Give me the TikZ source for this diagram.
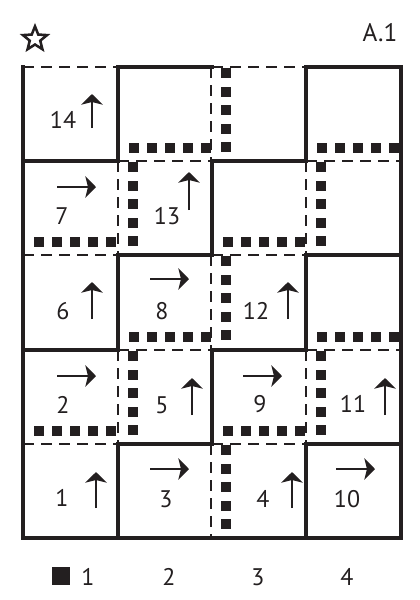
\documentclass[tikz,border=0pt]{standalone}
\usepackage{fontspec}
\setmainfont{PT Sans}
\usetikzlibrary{arrows.meta,shapes.geometric}
\definecolor{ink}{RGB}{35,31,32}
\begin{document}
\begin{tikzpicture}[x=0.75pt,y=-0.75pt,
  solidline/.style={draw=ink,line width=2.4pt,line cap=rect},
  dashline/.style={draw=ink,line width=1.5pt,dash pattern=on 8.25pt off 5.25pt},
  sq/.style={fill=ink},
  num/.style={font=\fontsize{18}{20}\selectfont,text=ink,inner sep=0pt},
  arr/.style={draw=ink,line width=2.2pt,-{Stealth[length=8pt,width=16pt,inset=2pt]}},
  starmark/.style={star,star points=5,star point ratio=2.3,draw=ink,line width=1.9pt,minimum size=19pt,inner sep=0pt,line join=miter},
]
\useasboundingbox (0,0) rectangle (419,600);
% dashed segments
\foreach \a/\b/\y in {23/118/67,212/306/67,118/212/161,306/401/161,23/118/255,212/306/255,118/212/350,306/401/350,23/118/444,212/306/444}
  \draw[dashline] (\a,\y) -- (\b,\y);
\foreach \x/\a/\b in {118/161/255,118/350/444,211/67/161,211/255/350,211/444/538,306/161/255,306/350/444}
  \draw[dashline] (\x,\a) -- (\x,\b);
% solid segments
\foreach \a/\b/\y in {118/212/67,306/401/67,23/118/161,212/306/161,118/212/255,306/401/255,23/118/350,212/306/350,118/212/444,306/401/444,23/401/538}
  \draw[solidline] (\a,\y) -- (\b,\y);
\foreach \x/\a/\b in {23/67/538,401/67/538,118/67/161,118/255/350,118/444/538,212/161/255,212/350/444,306/67/161,306/255/350,306/444/538}
  \draw[solidline] (\x,\a) -- (\x,\b);
% horizontal rows of squares
\foreach \cx/\ly in {118/161,306/161,23/255,212/255,118/350,306/350,23/444,212/444}
  \foreach \k in {0,...,4}
    \fill[sq] ({\cx+16+18*\k-5},{\ly-13.5-5}) rectangle ++(10,10);
% vertical columns of squares
\foreach \lx/\ty in {211/67,118/161,306/161,211/255,118/350,306/350,211/444}
  \foreach \k in {0,...,4}
    \fill[sq] ({\lx+15-5},{\ty+6+18.5*\k-5}) rectangle ++(10,10);
% cell labels
\node[num] (n14) at (63,120) {14};
\node[num] (n7) at (62,216) {7};
\node[num] (n13) at (167,216) {13};
\node[num] (n6) at (63,311) {6};
\node[num] (n8) at (162,311) {8};
\node[num] (n12) at (256,311) {12};
\node[num] (n2) at (63,405) {2};
\node[num] (n5) at (162,405) {5};
\node[num] (n9) at (260,404) {9};
\node[num] (n11) at (353,404) {11};
\node[num] (n1) at (62,498) {1};
\node[num] (n3) at (166,499) {3};
\node[num] (n4) at (263,499) {4};
\node[num] (n10) at (347,499) {10};
% up arrows
\foreach \x/\yb/\yt in {92/128/94,189/210/172,92/319/282,288/319/282,192/415/378,385/415/378,96/508/472,292/508/472}
  \draw[arr] (\x,\yb) -- (\x,\yt);
% right arrows
\foreach \y/\xa/\xb in {187/57/96,279/150/189,376/57/96,376/243/282,469/150/189,469/336/375}
  \draw[arr] (\xa,\y) -- (\xb,\y);
% legend
\fill[ink] (52,567) rectangle (70,585);
\node[num] (c1) at (88,577) {1};
\node[num] (c2) at (169,577) {2};
\node[num] (c3) at (258,577) {3};
\node[num] (c4) at (347,577) {4};
% header
\node[starmark] (star) at (35,39) {};
\node[num,font=\fontsize{19}{21}\selectfont] (title) at (380,33) {A.1};
\end{tikzpicture}
\end{document}
